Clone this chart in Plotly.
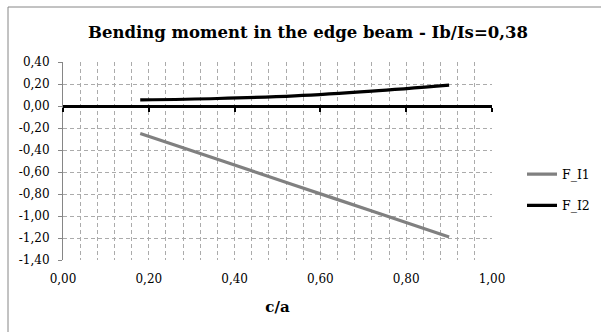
import plotly.graph_objects as go

# c/a ratios and edge-beam bending moment coefficients
c_over_a = [0.18, 0.36, 0.54, 0.72, 0.90]
f_i1 = [-0.25, -0.485, -0.72, -0.955, -1.19]
f_i2 = [0.055, 0.068, 0.092, 0.135, 0.19]

y_ticks = [0.4, 0.2, 0.0, -0.2, -0.4, -0.6, -0.8, -1.0, -1.2, -1.4]
x_ticks = [0.0, 0.2, 0.4, 0.6, 0.8, 1.0]

FONT = "DejaVu Serif"
GRID = "#ababab"
FRAME = "#868686"
Y_MIN, Y_MAX = -1.4, 0.4

# plot-area geometry in pixels
W, H = 601, 332
L, R, T, B = 63, 109, 62, 72
PW, PH = W - L - R, H - T - B


def comma(v):
    return f"{v:.2f}".replace(".", ",")


fig = go.Figure()
fig.add_trace(go.Scatter(
    x=c_over_a, y=f_i1, name="F_I1", mode="lines",
    line=dict(color="#808080", width=3.2, shape="spline"),
    legendgroup="a",
))
fig.add_trace(go.Scatter(
    x=c_over_a, y=f_i2, name="F_I2", mode="lines",
    line=dict(color="#000000", width=3.2, shape="spline"),
    legendgroup="b",
))
# invisible trace that carries the axis drawn through y = 0
fig.add_trace(go.Scatter(
    x=[0, 1], y=[0, 0], xaxis="x2", mode="lines",
    line=dict(width=0), showlegend=False, hoverinfo="skip",
))

zero_pos = (0 - Y_MIN) / (Y_MAX - Y_MIN)

# outer chart frame: left and top edges
fx = (8 - L) / PW
fy = 1 + (T - 7) / PH
frame = [
    dict(type="line", xref="paper", yref="paper", x0=fx, x1=fx, y0=-1.0, y1=fy,
         line=dict(color=FRAME, width=1)),
    dict(type="line", xref="paper", yref="paper", x0=fx, x1=3.0, y0=fy, y1=fy,
         line=dict(color=FRAME, width=1)),
]

fig.update_layout(
    width=W, height=H,
    margin=dict(l=L, r=R, t=T, b=B, autoexpand=False),
    paper_bgcolor="white", plot_bgcolor="white",
    font=dict(family=FONT, size=12, color="#000000"),
    title=dict(
        text="<b>Bending moment in the edge beam - Ib/Is=0,38</b>",
        font=dict(family=FONT, size=16.5, color="#000000"),
        x=0.5125, xanchor="center", xref="container",
        y=1 - 32 / H, yanchor="middle", yref="container",
    ),
    xaxis=dict(
        range=[0, 1], tickvals=x_ticks, ticktext=[comma(v) for v in x_ticks],
        showline=False, zeroline=False, ticks="",
        showgrid=True, gridcolor=GRID, gridwidth=1, griddash="4px,3px",
        minor=dict(dtick=0.04, tick0=0, showgrid=True, gridcolor=GRID,
                   gridwidth=1, griddash="4px,3px"),
        ticklabelstandoff=10,
        tickfont=dict(family=FONT, size=12),
        title=dict(text="<b>c/a</b>", font=dict(family=FONT, size=15), standoff=16),
        automargin=False,
    ),
    xaxis2=dict(
        range=[0, 1], overlaying="x", anchor="free", position=zero_pos,
        showline=True, linecolor="#000000", linewidth=3,
        ticks="outside", tickvals=x_ticks, ticklen=4, tickwidth=2,
        tickcolor="#000000", showticklabels=False, showgrid=False, zeroline=False,
    ),
    yaxis=dict(
        range=[Y_MIN, Y_MAX], tickvals=y_ticks,
        ticktext=[comma(v) for v in y_ticks],
        showline=True, linecolor=FRAME, linewidth=1,
        ticks="outside", ticklen=4, tickcolor=FRAME,
        showgrid=True, gridcolor=GRID, gridwidth=1, griddash="4px,3px",
        zeroline=False, ticklabelstandoff=6,
        tickfont=dict(family=FONT, size=12),
        automargin=False,
    ),
    legend=dict(
        xref="container", yref="container",
        x=522 / W, xanchor="left", y=1 - 190 / H, yanchor="middle",
        font=dict(family=FONT, size=12.5), tracegroupgap=12,
        bgcolor="rgba(0,0,0,0)",
    ),
    showlegend=True,
    shapes=frame,
)

fig.write_html("out.html")
